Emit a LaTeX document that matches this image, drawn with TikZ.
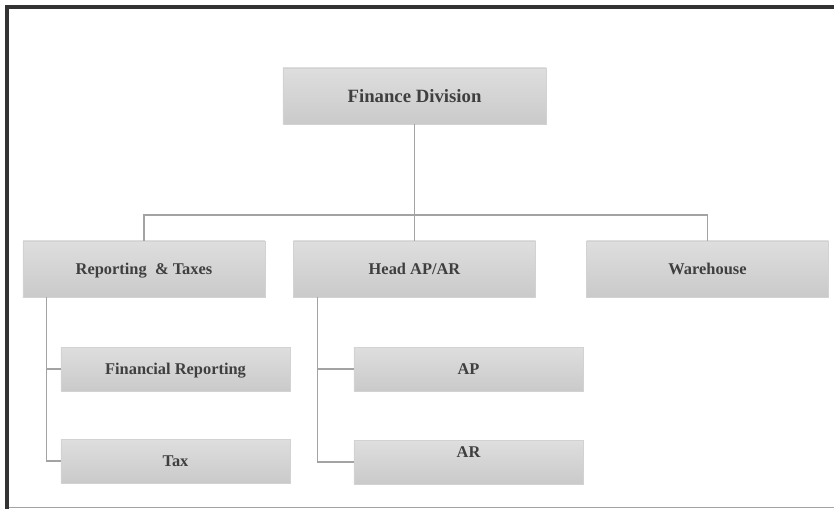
\documentclass[tikz,border=0pt]{standalone}
\usepackage{fontspec}
\setmainfont{Liberation Serif}
\usetikzlibrary{positioning}

\definecolor{boxtop}{HTML}{DEDEDE}
\definecolor{boxbot}{HTML}{CACACA}
\definecolor{boxline}{HTML}{D2D2D2}
\definecolor{txtgray}{HTML}{3F3F3F}
\definecolor{linkgray}{HTML}{A3A3A3}
\definecolor{framedark}{HTML}{333333}

\begin{document}
\begin{tikzpicture}[
    x=0.03cm, y=-0.03cm,
    % Define node styles
    unit/.style={rectangle, draw=boxline, top color=boxtop, bottom color=boxbot,
                 text=txtgray, font=\bfseries\fontsize{14}{16}\selectfont,
                 text depth=0pt, minimum width=7.26cm, minimum height=1.68cm,
                 align=center},
    head/.style={unit, minimum width=7.89cm, font=\bfseries\fontsize{16}{18}\selectfont},
    sub/.style={unit, minimum width=6.87cm, minimum height=1.31cm},
    link/.style={draw=linkgray, line width=1.2pt}
]
    \useasboundingbox (0,0) rectangle (834,509);

    % Frame
    \fill[framedark] (5,5) rectangle (834,9);
    \fill[framedark] (5,5) rectangle (9,509);
    \draw[linkgray, line width=1pt] (9,507.5) -- (834,507.5);

    % Create nodes
    \node[head] (finance) at (414.5,96) {Finance Division};
    \node[unit] (reporting) at (144,269) {Reporting \ \& Taxes};
    \node[unit] (apar) at (414.5,269) {Head AP/AR};
    \node[unit] (warehouse) at (707.5,269) {Warehouse};
    \node[sub] (finrep) at (175.5,369) {Financial Reporting};
    \node[sub] (tax) at (175.5,461) {Tax};
    \node[sub] (ap) at (468.5,369) {AP};
    \node[sub, text depth=0.6cm] (ar) at (468.5,462) {AR};

    % Draw connectors between nodes
    \coordinate (bus) at (414.5,215);
    \draw[link] (finance) -- (apar);
    \draw[link] (reporting.north) -- (reporting.north |- bus)
        -- (warehouse.north |- bus) -- (warehouse.north);
    \draw[link] ([xshift=0.72cm]reporting.south west) |- (finrep.west);
    \draw[link] ([xshift=0.72cm]reporting.south west) |- (tax.west);
    \draw[link] ([xshift=0.72cm]apar.south west) |- (ap.west);
    \draw[link] ([xshift=0.72cm]apar.south west) |- (ar.west);
\end{tikzpicture}
\end{document}
